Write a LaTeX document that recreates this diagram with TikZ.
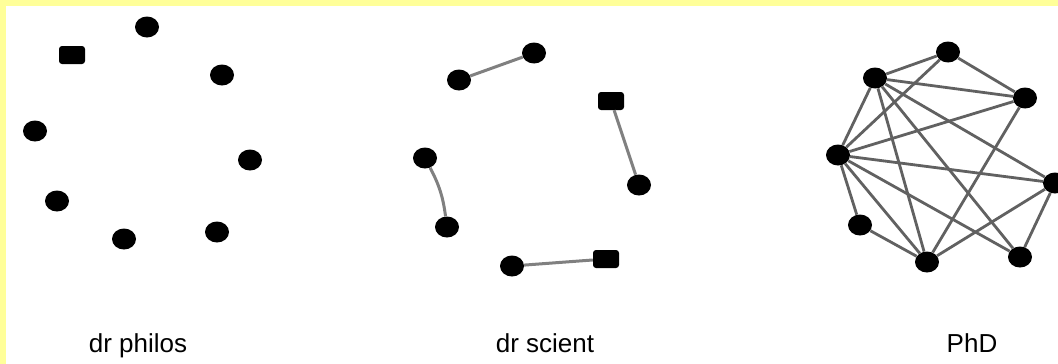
\documentclass[tikz,border=0pt]{standalone}
\usepackage{fontspec}
\setmainfont{Liberation Sans}
\usetikzlibrary{shapes.geometric}
\definecolor{bandyellow}{RGB}{255,255,153}
\tikzset{
  dot/.style={ellipse,fill=black,draw=none,minimum width=24pt,minimum height=21pt,inner sep=0pt},
  sq/.style={rectangle,rounded corners=3pt,fill=black,draw=none,minimum width=26pt,minimum height=18pt,inner sep=0pt},
  tie/.style={draw=black!50,line width=3pt},
  web/.style={draw=black!62,line width=2.8pt},
  lbl/.style={anchor=base,font=\fontsize{26}{30}\selectfont,inner sep=0pt}
}
\begin{document}
\begin{tikzpicture}[x=1pt,y=-1pt]
\useasboundingbox (0,0) rectangle (1058,364);
\fill[bandyellow] (0,0) rectangle (1058,364);
\fill[white] (6,6) rectangle (1058,364);
% dr philos
\node[dot] (p1) at (147,27) {};
\node[sq]  (p2) at (72,55) {};
\node[dot] (p3) at (222,75) {};
\node[dot] (p4) at (35,131) {};
\node[dot] (p5) at (250,160) {};
\node[dot] (p6) at (57,201) {};
\node[dot] (p7) at (124,239) {};
\node[dot] (p8) at (217,232) {};
% dr scient
\node[dot] (s1) at (534,53) {};
\node[dot] (s2) at (459,80) {};
\node[sq]  (s3) at (611,101) {};
\node[dot] (s4) at (425,158) {};
\node[dot] (s5) at (639,185) {};
\node[dot] (s6) at (447,227) {};
\node[dot] (s7) at (512,266) {};
\node[sq]  (s8) at (606,259) {};
\draw[tie] (s2) -- (s1);
\draw[tie] (s3) -- (s5);
\draw[tie] (s4) to[bend left=10] (s6);
\draw[tie] (s7) -- (s8);
% PhD
\node[dot] (A) at (948,52) {};
\node[dot] (B) at (875,78) {};
\node[dot] (C) at (1025,98) {};
\node[dot] (D) at (838,155) {};
\node[dot] (E) at (1055,183) {};
\node[dot] (F) at (860,225) {};
\node[dot] (G) at (927,262) {};
\node[dot] (H) at (1020,257) {};
\foreach \u/\v in {A/B,A/C,A/D,B/C,B/D,B/E,B/G,B/H,C/D,C/G,D/E,D/F,D/G,D/H,E/G,E/H,F/G}
  \draw[web] (\u) -- (\v);
% labels
\node[lbl] (l1) at (138,352) {dr philos};
\node[lbl] (l2) at (545,352) {dr scient};
\node[lbl] (l3) at (972,352) {PhD};
\end{tikzpicture}
\end{document}
